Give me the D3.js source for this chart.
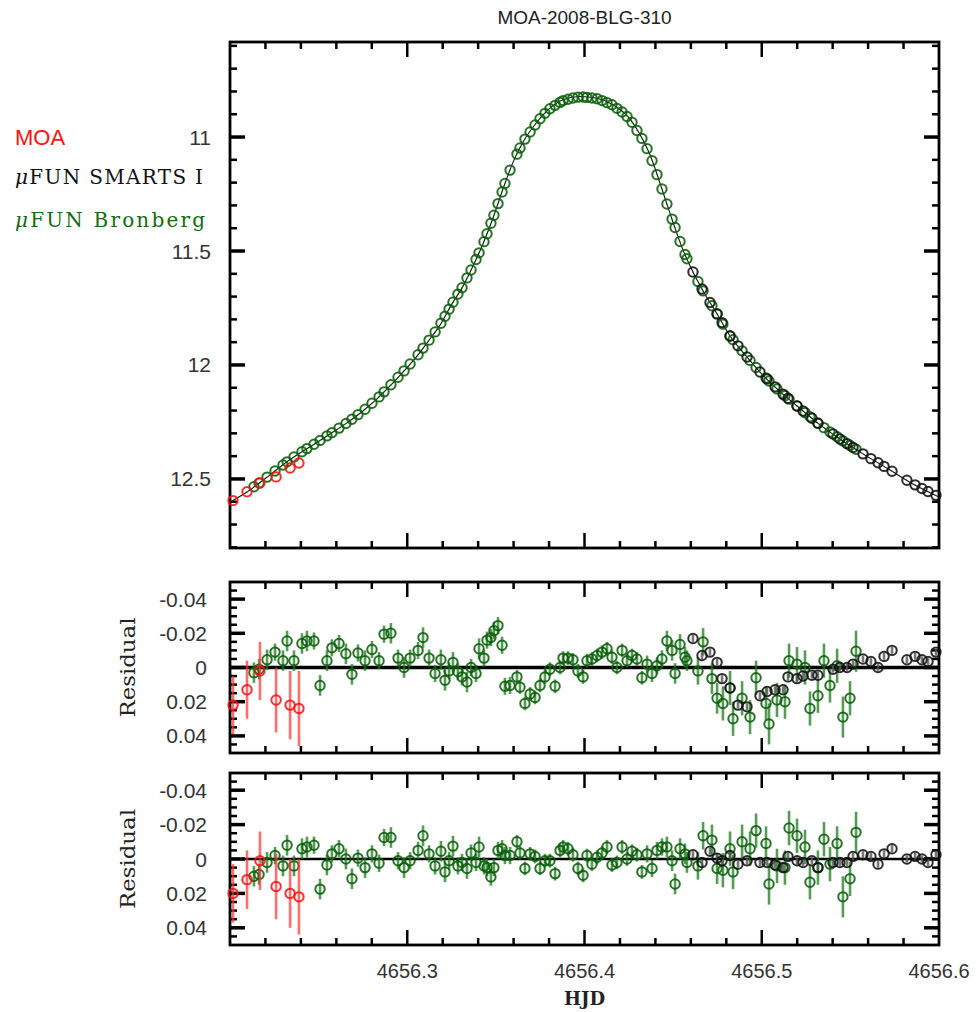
<!DOCTYPE html>
<html><head><meta charset="utf-8">
<script src="https://cdnjs.cloudflare.com/ajax/libs/d3/7.8.5/d3.min.js"></script>
<style>body{margin:0;background:#fff}</style>
</head><body><svg id="c" width="976" height="1012"></svg>
<script>
// ---------------- DATA ----------------
const chartTitle = "MOA-2008-BLG-310";
const legendLabels = ["MOA", "FUN SMARTS I", "FUN Bronberg"];
const xMajorTicks = [4656.3, 4656.4, 4656.5, 4656.6];
const xTickLabels = ["4656.3", "4656.4", "4656.5", "4656.6"];
const magTicks = [11, 11.5, 12, 12.5];
const magTickLabels = ["11", "11.5", "12", "12.5"];
const resTicks = [-0.04, -0.02, 0, 0.02, 0.04];
const resTickLabels = ["-0.04", "-0.02", "0", "0.02", "0.04"];

// model light curve (HJD, magnitude)
const modelT = [4656.2000,4656.2096,4656.2226,4656.2327,4656.2395,4656.2468,4656.2564,4656.2660,4656.2750,4656.2829,4656.2903,4656.2976,4656.3055,4656.3128,4656.3185,4656.3252,4656.3315,4656.3371,4656.3427,4656.3484,4656.3540,4656.3597,4656.3653,4656.3732,4656.3805,4656.3879,4656.3975,4656.4071,4656.4161,4656.4257,4656.4330,4656.4370,4656.4426,4656.4465,4656.4499,4656.4556,4656.4612,4656.4669,4656.4748,4656.4821,4656.4917,4656.4990,4656.5086,4656.5199,4656.5329,4656.5441,4656.5571,4656.5724,4656.5853,4656.6000];
const modelMag = [12.601,12.557,12.482,12.421,12.386,12.351,12.303,12.254,12.202,12.149,12.092,12.031,11.961,11.886,11.825,11.732,11.654,11.566,11.469,11.355,11.228,11.110,11.022,10.934,10.873,10.836,10.822,10.830,10.858,10.921,11.013,11.079,11.202,11.294,11.373,11.496,11.592,11.675,11.776,11.873,11.965,12.031,12.105,12.180,12.263,12.325,12.390,12.461,12.522,12.579];

// MOA
const moaT    = [4656.2017,4656.2096,4656.2169,4656.2260,4656.2339,4656.2389];
const moaMag  = [12.595,12.556,12.518,12.491,12.452,12.430];
const moaRes1 = [0.022,0.013,0.002,0.019,0.022,0.024];
const moaRes2 = [0.020,0.012,0.001,0.016,0.020,0.022];
const moaErr  = [0.017,0.017,0.017,0.019,0.020,0.022];

// muFUN SMARTS I
const smaT    = [4656.4612,4656.4663,4656.4708,4656.4748,4656.4776,4656.4821,4656.4866,4656.4917,4656.4990,4656.5030,4656.5075,4656.5120,4656.5148,4656.5199,4656.5233,4656.5283,4656.5317,4656.5402,4656.5441,4656.5481,4656.5515,4656.5571,4656.5616,4656.5656,4656.5690,4656.5735,4656.5819,4656.5865,4656.5904,4656.5938,4656.5983];
const smaMag  = [11.592,11.667,11.726,11.776,11.814,11.873,11.916,11.965,12.031,12.061,12.096,12.128,12.146,12.180,12.202,12.234,12.256,12.303,12.325,12.345,12.362,12.390,12.411,12.429,12.445,12.466,12.506,12.526,12.542,12.555,12.572];
const smaRes1 = [-0.017,-0.007,-0.009,-0.003,0.0065,0.012,0.022,0.023,0.0165,0.014,0.013,0.013,0.0055,0.0065,0.005,0.0045,0.0045,0.001,0.000,0.000,-0.002,-0.005,-0.0035,0.000,-0.0065,-0.010,-0.0045,-0.0065,-0.0045,-0.0035,-0.009];
const smaRes2 = [-0.0025,0.002,-0.0045,-0.0005,0.001,-0.002,0.003,0.001,0.002,0.002,0.0035,0.005,-0.0015,0.001,0.002,0.001,0.005,0.002,0.002,0.002,-0.0015,-0.0025,-0.0015,0.003,-0.003,-0.006,0.000,-0.0015,0.000,0.002,-0.0025];
const smaErr  = [0.002,0.002,0.002,0.002,0.002,0.002,0.002,0.002,0.002,0.002,0.002,0.002,0.002,0.002,0.002,0.002,0.002,0.002,0.002,0.002,0.002,0.002,0.002,0.002,0.002,0.002,0.002,0.002,0.002,0.002,0.002];

// muFUN Bronberg
const broT = [4656.2135,4656.2164,4656.2209,4656.2254,4656.2299,4656.2322,4656.2361,4656.2406,4656.2434,4656.2474,4656.2508,4656.2547,4656.2575,4656.2615,4656.2654,4656.2688,4656.2722,4656.2762,4656.2801,4656.2841,4656.2869,4656.2908,4656.2948,4656.2982,4656.3016,4656.3061,4656.3089,4656.3123,4656.3157,4656.3190,4656.3213,4656.3236,4656.3258,4656.3286,4656.3309,4656.3337,4656.3360,4656.3388,4656.3405,4656.3433,4656.3450,4656.3472,4656.3489,4656.3512,4656.3535,4656.3551,4656.3580,4656.3619,4656.3636,4656.3664,4656.3693,4656.3721,4656.3749,4656.3777,4656.3805,4656.3834,4656.3862,4656.3879,4656.3907,4656.3935,4656.3963,4656.3992,4656.4014,4656.4042,4656.4071,4656.4099,4656.4127,4656.4155,4656.4183,4656.4212,4656.4240,4656.4268,4656.4296,4656.4324,4656.4353,4656.4381,4656.4409,4656.4437,4656.4465,4656.4494,4656.4511,4656.4539,4656.4567,4656.4578,4656.4640,4656.4669,4656.4719,4656.4748,4656.4781,4656.4821,4656.4838,4656.4889,4656.4934,4656.4968,4656.5024,4656.5041,4656.5086,4656.5131,4656.5154,4656.5199,4656.5244,4656.5272,4656.5317,4656.5351,4656.5385,4656.5425,4656.5458,4656.5498,4656.5532];
const broMag = [12.534,12.518,12.492,12.465,12.439,12.425,12.404,12.381,12.367,12.348,12.331,12.311,12.297,12.277,12.257,12.238,12.218,12.194,12.168,12.140,12.118,12.087,12.054,12.026,11.996,11.955,11.926,11.891,11.855,11.817,11.786,11.755,11.725,11.689,11.661,11.618,11.583,11.537,11.508,11.459,11.424,11.378,11.343,11.292,11.241,11.204,11.145,11.075,11.048,11.009,10.978,10.947,10.920,10.896,10.876,10.861,10.848,10.840,10.834,10.829,10.825,10.824,10.826,10.829,10.832,10.840,10.849,10.858,10.874,10.890,10.910,10.935,10.971,11.006,11.051,11.104,11.165,11.228,11.294,11.360,11.397,11.458,11.515,11.534,11.634,11.675,11.740,11.776,11.821,11.873,11.889,11.938,11.980,12.011,12.057,12.070,12.105,12.135,12.150,12.180,12.209,12.227,12.256,12.275,12.294,12.315,12.333,12.353,12.370];
const broRes1 = [0.003,0.001,-0.0045,-0.009,-0.004,-0.0155,-0.004,-0.014,-0.0155,-0.0155,0.0105,-0.004,-0.0115,-0.014,-0.008,0.004,-0.0085,-0.004,-0.0105,-0.004,-0.0195,-0.020,-0.0055,0.000,-0.0055,-0.010,-0.0175,-0.0055,0.0035,-0.0045,0.0075,0.002,-0.003,0.0025,0.0055,0.0085,0.000,0.0035,-0.011,-0.0055,-0.016,-0.0175,-0.0215,-0.0245,-0.013,0.011,0.0105,0.0055,0.0115,0.021,0.0155,0.0175,0.0105,0.0055,0.001,0.011,0.000,-0.0055,-0.0055,-0.0045,0.002,0.0055,-0.004,-0.005,-0.007,-0.009,-0.011,-0.006,0.000,-0.010,-0.004,-0.007,-0.005,0.006,-0.002,0.0035,-0.001,-0.005,-0.0155,-0.010,0.0035,-0.0135,-0.006,-0.004,0.002,-0.015,0.0065,0.018,0.021,0.012,0.030,0.018,0.029,0.006,0.021,0.033,0.019,0.020,-0.004,-0.002,0.000,0.024,0.0165,-0.004,0.0105,-0.001,0.029,0.018,-0.0095];
const broRes2 = [0.010,0.009,0.002,-0.002,0.004,-0.008,0.004,-0.006,-0.007,-0.008,0.0175,0.0035,-0.003,-0.006,0.000,0.0115,-0.0005,0.005,-0.003,0.0025,-0.0125,-0.0125,0.001,0.005,0.001,-0.005,-0.0135,-0.003,0.004,-0.0045,0.0075,0.001,-0.0075,0.004,0.002,0.0055,-0.0035,0.002,-0.007,0.004,0.005,0.0105,0.005,-0.005,-0.006,-0.002,-0.002,-0.010,-0.0035,0.0055,-0.003,-0.0015,0.0055,0.001,0.001,0.0085,-0.005,-0.007,-0.006,-0.0025,0.0055,0.0095,-0.002,0.003,-0.001,-0.0035,-0.007,0.0035,0.002,-0.007,0.000,-0.0045,-0.0025,0.0075,-0.003,0.0055,-0.005,-0.007,-0.007,0.001,0.0145,-0.006,-0.003,0.002,0.004,-0.0135,-0.011,0.0055,0.0065,-0.006,0.0075,-0.010,-0.006,-0.0165,-0.009,0.0145,0.004,0.005,-0.018,-0.0135,-0.007,0.0135,0.005,-0.0115,0.003,-0.009,0.022,0.0115,-0.0155];
const broErr = [0.006,0.006,0.006,0.005,0.006,0.006,0.006,0.006,0.006,0.005,0.006,0.006,0.005,0.005,0.006,0.006,0.005,0.006,0.005,0.005,0.005,0.006,0.005,0.006,0.005,0.005,0.006,0.005,0.005,0.006,0.006,0.005,0.006,0.005,0.005,0.006,0.005,0.005,0.006,0.005,0.005,0.005,0.005,0.005,0.005,0.005,0.005,0.004,0.004,0.004,0.004,0.004,0.004,0.004,0.004,0.004,0.004,0.004,0.004,0.004,0.004,0.004,0.004,0.004,0.004,0.004,0.004,0.004,0.004,0.004,0.004,0.004,0.004,0.004,0.005,0.005,0.005,0.005,0.006,0.006,0.006,0.006,0.006,0.006,0.008,0.008,0.009,0.009,0.010,0.010,0.010,0.010,0.010,0.010,0.010,0.012,0.010,0.010,0.010,0.010,0.010,0.010,0.010,0.010,0.010,0.010,0.012,0.010,0.012];

// ---------------- DRAW ----------------
const svg = d3.select("#c");
svg.append("rect").attr("width",976).attr("height",1012).attr("fill","#fff");

const X0 = 230, X1 = 939;
const x = d3.scaleLinear().domain([4656.2, 4656.6]).range([X0, X1]);
const yTop = d3.scaleLinear().domain([10.583, 12.803]).range([42, 548]);
const yR1 = d3.scaleLinear().domain([-0.05, 0.05]).range([582, 753]);
const yR2 = d3.scaleLinear().domain([-0.05, 0.05]).range([773, 945]);

const GREEN = "#0a5f0a", RED = "#ff1010", BLACK = "#111";
const sets = [
  {t: broT, m: broMag, r1: broRes1, r2: broRes2, e: broErr, c: GREEN, ec: "#1f7a1f", eo: 0.75},
  {t: smaT, m: smaMag, r1: smaRes1, r2: smaRes2, e: smaErr, c: BLACK, ec: "#555", eo: 0.8},
  {t: moaT, m: moaMag, r1: moaRes1, r2: moaRes2, e: moaErr, c: RED, ec: "#ff3030", eo: 0.7}
];

const xMinor = d3.range(0, 21).map(i => ({v: 4656.2 + i * 0.02, major: i % 5 === 0, edge: i === 0 || i === 20}));

function frame(y0, y1, yTicks) {
  const g = svg.append("g");
  xMinor.filter(d => !d.edge).forEach(d => {
    const len = d.major ? 15 : 7;
    const px = x(d.v);
    g.append("line").attr("x1", px).attr("x2", px).attr("y1", y0).attr("y2", y0 + len).attr("stroke-width", 2.5);
    g.append("line").attr("x1", px).attr("x2", px).attr("y1", y1).attr("y2", y1 - len).attr("stroke-width", 2.5);
  });
  yTicks.forEach(d => {
    const len = d.major ? 15 : 7;
    g.append("line").attr("x1", X0).attr("x2", X0 + len).attr("y1", d.py).attr("y2", d.py)
      .attr("stroke-width", d.major ? 3.5 : 2.5);
    g.append("line").attr("x1", X1).attr("x2", X1 - len).attr("y1", d.py).attr("y2", d.py)
      .attr("stroke-width", d.major ? 3.5 : 2.5);
  });
  g.selectAll("line").attr("stroke", "#000");
  g.append("rect").attr("x", X0).attr("y", y0).attr("width", X1 - X0).attr("height", y1 - y0)
    .attr("fill", "none").attr("stroke", "#000").attr("stroke-width", 2.8);
}

// Title
svg.append("text").attr("x", (X0 + X1) / 2).attr("y", 24).attr("text-anchor", "middle")
  .attr("font-family", "Liberation Sans, Arial, sans-serif").attr("font-size", 19).attr("fill", "#222")
  .text(chartTitle);

// ---- Top panel ----
const magMinor = d3.range(0, 23).map(i => 10.6 + i * 0.1);
frame(42, 548, magMinor.map(v => ({py: yTop(v), major: Math.abs(v * 2 - Math.round(v * 2)) < 1e-6})));
magTicks.forEach((v, i) => {
  svg.append("text").attr("x", 211).attr("y", yTop(v) + 7.5).attr("text-anchor", "end")
    .attr("font-family", "Liberation Sans, Arial, sans-serif").attr("font-size", 21).attr("fill", "#333")
    .text(magTickLabels[i]);
});

const line = d3.line().x((d, i) => x(modelT[i])).y((d, i) => yTop(modelMag[i])).curve(d3.curveMonotoneX);
svg.append("path").datum(modelT).attr("d", line).attr("fill", "none").attr("stroke", "#111").attr("stroke-width", 1.1);

function drawPoints(yScale, key, withErr) {
  sets.forEach(s => {
    const g = svg.append("g");
    const idx = d3.range(s.t.length);
    g.selectAll("line").data(idx).join("line")
      .attr("x1", i => x(s.t[i])).attr("x2", i => x(s.t[i]))
      .attr("y1", i => yScale(s[key][i] - (withErr ? s.e[i] : 0.0015)))
      .attr("y2", i => yScale(s[key][i] + (withErr ? s.e[i] : 0.0015)))
      .attr("stroke", s.ec).attr("stroke-opacity", s.eo).attr("stroke-width", withErr ? 2.6 : 1.4);
    g.selectAll("circle").data(idx).join("circle")
      .attr("cx", i => x(s.t[i])).attr("cy", i => yScale(s[key][i])).attr("r", 4.7)
      .attr("fill", "none").attr("stroke", s.c).attr("stroke-width", 2).attr("stroke-opacity", 0.88);
  });
}
drawPoints(yTop, "m", false);

// ---- Residual panels ----
const resMinor = d3.range(-9, 10).map(i => ({v: i * 0.005, major: i % 4 === 0}));
[[yR1, "r1", 582, 753, 3.4], [yR2, "r2", 773, 945, 2.6]].forEach(([ys, key, y0, y1, zw]) => {
  frame(y0, y1, resMinor.map(d => ({py: ys(d.v), major: d.major})));
  resTicks.forEach((v, i) => {
    svg.append("text").attr("x", 207).attr("y", ys(v) + 7.5).attr("text-anchor", "end")
      .attr("font-family", "Liberation Sans, Arial, sans-serif").attr("font-size", 21).attr("fill", "#333")
      .text(resTickLabels[i]);
  });
  svg.append("text").attr("transform", `translate(135,${(y0 + y1) / 2}) rotate(-90)`)
    .attr("text-anchor", "middle").attr("font-family", "DejaVu Serif, serif").attr("font-size", 21)
    .attr("fill", "#222").attr("textLength", 100).attr("lengthAdjust", "spacingAndGlyphs").text("Residual");
  svg.append("line").attr("x1", X0).attr("x2", X1).attr("y1", ys(0)).attr("y2", ys(0))
    .attr("stroke", "#000").attr("stroke-width", zw);
  drawPoints(ys, key, true);
});

// x tick labels
xMajorTicks.forEach((v, i) => {
  svg.append("text").attr("x", x(v)).attr("y", 978).attr("text-anchor", "middle")
    .attr("font-family", "Liberation Sans, Arial, sans-serif").attr("font-size", 20).attr("fill", "#333")
    .text(xTickLabels[i]);
});
svg.append("text").attr("x", (X0 + X1) / 2).attr("y", 1005).attr("text-anchor", "middle")
  .attr("font-family", "DejaVu Serif, serif").attr("font-weight", "bold").attr("font-size", 18)
  .attr("fill", "#222").text("HJD");

// Legend
svg.append("text").attr("x", 15).attr("y", 145).attr("font-family", "Liberation Sans, Arial, sans-serif")
  .attr("font-size", 22).attr("fill", RED).text(legendLabels[0]);
[[legendLabels[1], 184, "#111", 188], [legendLabels[2], 227, "#126b12", 190]].forEach(([lab, y, c, w]) => {
  const t = svg.append("text").attr("x", 15).attr("y", y).attr("font-family", "DejaVu Serif, serif")
    .attr("font-size", 20).attr("fill", c).attr("textLength", w).attr("lengthAdjust", "spacing");
  t.append("tspan").attr("font-style", "italic").text("μ");
  t.append("tspan").text(lab);
});
</script>
</body></html>
